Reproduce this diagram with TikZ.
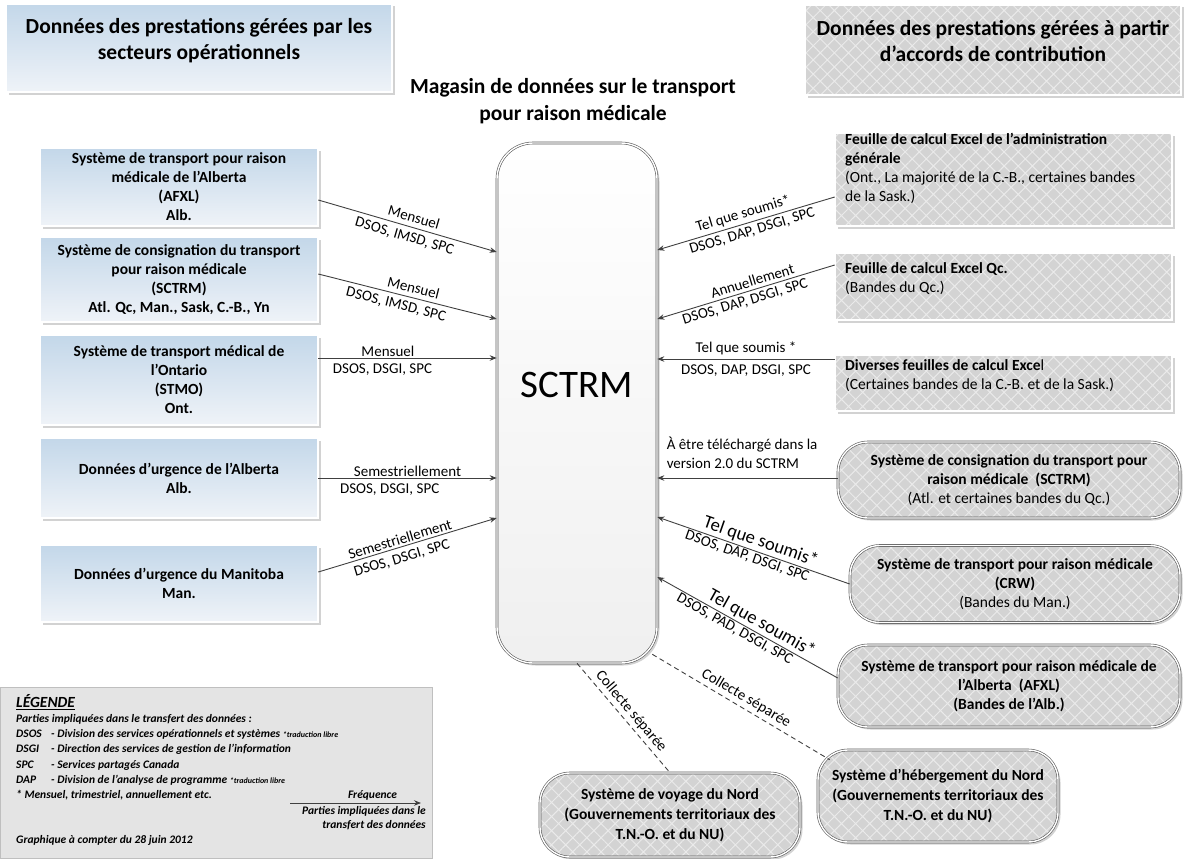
\documentclass[tikz,border=0pt]{standalone}
\usepackage{fontspec}
\setmainfont{Carlito}
\usetikzlibrary{arrows.meta,shadows,patterns.meta}
\definecolor{blueTop}{HTML}{C3D7E9}
\definecolor{blueBot}{HTML}{EFF3F8}
\definecolor{grayFill}{HTML}{D3D3D3}
\definecolor{hatchCol}{HTML}{EAEAEA}
\definecolor{lineCol}{HTML}{404040}
\definecolor{edgeCol}{HTML}{5A5A5A}
\definecolor{legFill}{HTML}{E4E4E4}
\newcommand{\fsz}[2]{\fontsize{#1}{#2}\selectfont}
\begin{document}
\begin{tikzpicture}[x=1pt,y=-1pt,
  dbl/.style={draw=edgeCol, line width=0.6pt, double=white, double distance=1.4pt},
  shad/.style={drop shadow={shadow xshift=2.5pt,shadow yshift=-2.5pt,fill=black!35}},
  bluebox/.style={rectangle, dbl, shad, top color=blueTop, bottom color=blueBot, inner sep=0pt, align=center, font=\bfseries\fsz{15.5}{19}},
  graybox/.style={rectangle, dbl, shad, preaction={fill=grayFill}, pattern={Hatch[angle=45,distance=10pt,line width=1pt]}, pattern color=hatchCol, inner sep=0pt},
  ovalbox/.style={graybox, rounded corners=30pt, align=center, font=\fsz{15.5}{19}},
  hdr/.style={font=\bfseries\fsz{21.5}{26.5}, align=center, inner sep=0pt},
  rtxt/.style={font=\fsz{15.5}{19}, align=left, inner sep=0pt, anchor=north west},
  flow/.style={draw=lineCol, line width=0.9pt, -{Stealth[length=7pt,width=5.5pt]}},
  dflow/.style={draw=lineCol, line width=0.9pt, dash pattern=on 5pt off 3.5pt},
  lab/.style={font=\fsz{15}{17}, sloped, inner sep=4.5pt},
  biglab/.style={font=\fsz{18.5}{20}, sloped, inner sep=2pt},
  legtxt/.style={font=\bfseries\itshape\fsz{11.5}{15.3}, align=left, inner sep=0pt, anchor=north west}
]
\useasboundingbox (0,0) rectangle (1199,859);

% headers
\node[bluebox, minimum width=386pt, minimum height=88pt] (hL) at (199,48) {};
\node[hdr] (hLt) at (199,40.5) {Données des prestations gérées par les\\secteurs opérationnels};
\node[graybox, minimum width=376pt, minimum height=90pt] (hR) at (993,50) {};
\node[hdr] (hRt) at (993,41) {Données des prestations gérées à partir\\d’accords de contribution};
\node[hdr, font=\bfseries\fsz{21.5}{27}] (title) at (573,101) {Magasin de données sur le transport\\pour raison médicale};

% central store
\node[rectangle, rounded corners=36pt, dbl, shad, top color=white, bottom color=black!6, minimum width=160pt, minimum height=520pt, inner sep=0pt] (S) at (577,403) {};
\node[font=\fsz{39}{44}, inner sep=0pt] (St) at (577,385) {SCTRM};

% left boxes
\node[bluebox, minimum width=278pt, minimum height=78pt] (L1) at (179,187) {Système de transport pour raison\\médicale de l’Alberta\\(AFXL)\\Alb.};
\node[bluebox, minimum width=278pt, minimum height=85pt] (L2) at (179,279.5) {Système de consignation du transport\\pour raison médicale\\(SCTRM)\\Atl. Qc, Man., Sask, C.-B., Yn};
\node[bluebox, minimum width=278pt, minimum height=90pt] (L3) at (179,380) {Système de transport médical de\\l’Ontario\\(STMO)\\Ont.};
\node[bluebox, minimum width=278pt, minimum height=80pt] (L4) at (179,478) {Données d’urgence de l’Alberta\\Alb.};
\node[bluebox, minimum width=278pt, minimum height=77pt] (L5) at (179,583.5) {Données d’urgence du Manitoba\\Man.};

% right boxes
\node[graybox, minimum width=337pt, minimum height=93pt] (R1) at (1003.5,179.5) {};
\node[rtxt] (R1t) at (845,133) {\textbf{Feuille de calcul Excel de l’administration}\\\textbf{générale}\\(Ont., La majorité de la C.-B., certaines bandes\\de la Sask.)};
\node[graybox, minimum width=337pt, minimum height=67pt] (R2) at (1003.5,286.5) {};
\node[rtxt] (R2t) at (845,262) {\textbf{Feuille de calcul Excel Qc.}\\(Bandes du Qc.)};
\node[graybox, minimum width=337pt, minimum height=56pt] (R3) at (1003.5,383) {};
\node[rtxt] (R3t) at (845,359) {\textbf{Diverses feuilles de calcul Exce}l\\(Certaines bandes de la C.-B. et de la Sask.)};

% right ovals
\node[ovalbox, minimum width=342pt, minimum height=76pt] (O1) at (1009,480) {\textbf{Système de consignation du transport pour}\\\textbf{raison médicale\ \ (SCTRM)}\\(Atl. et certaines bandes du Qc.)};
\node[ovalbox, minimum width=330pt, minimum height=77pt] (O2) at (1015,584) {\textbf{Système de transport pour raison médicale}\\\textbf{(CRW)}\\(Bandes du Man.)};
\node[ovalbox, minimum width=342pt, minimum height=82pt, font=\bfseries\fsz{15.5}{19}] (O3) at (1009,686) {Système de transport pour raison médicale de\\l’Alberta\ \ (AFXL)\\(Bandes de l’Alb.)};
\node[ovalbox, minimum width=240pt, minimum height=92pt, font=\bfseries\fsz{15.5}{20}] (O4) at (938,796) {Système d’hébergement du Nord\\(Gouvernements territoriaux des\\T.N.-O. et du NU)};
\node[ovalbox, minimum width=260pt, minimum height=84pt, font=\bfseries\fsz{15.5}{20}] (O5) at (670,815) {Système de voyage du Nord\\(Gouvernements territoriaux des\\T.N.-O. et du NU)};

% left connectors
\draw[flow] ([yshift=-13pt]L1.east) -- node[lab, above, pos=0.52]{Mensuel} node[lab, below, pos=0.5]{DSOS, IMSD, SPC} (S.west |- 0,252);
\draw[flow] ([yshift=5.5pt]L2.east) -- node[lab, above, pos=0.52]{Mensuel} node[lab, below, pos=0.45]{DSOS, IMSD, SPC} (S.west |- 0,319);
\draw[flow] ([yshift=22pt]L3.east) -- node[lab, above, pos=0.39, inner sep=1pt]{Mensuel} node[lab, below, pos=0.36, inner sep=5pt]{DSOS, DSGI, SPC} (S.west |- 0,358);
\draw[flow] (L4.east) -- node[lab, above, pos=0.5, inner sep=1pt]{Semestriellement} node[lab, below, pos=0.4, inner sep=5pt]{DSOS, DSGI, SPC} (S.west |- 0,478);
\draw[flow] ([yshift=11.5pt]L5.east) -- node[lab, above, pos=0.47, inner sep=2pt]{Semestriellement} node[lab, below, pos=0.45, inner sep=5pt]{DSOS, DSGI, SPC} (S.west |- 0,518);

% right connectors
\draw[flow] ([yshift=-17.5pt]R1.west) -- node[lab, above, pos=0.5, inner sep=3pt]{Tel que soumis*} node[lab, below, pos=0.48, inner sep=3pt]{DSOS, DAP, DSGI, SPC} (S.east |- 0,250);
\draw[flow] ([yshift=21.5pt]R2.west) -- node[lab, above, pos=0.45, inner sep=3pt]{Annuellement} node[lab, below, pos=0.52, inner sep=3pt]{DSOS, DAP, DSGI, SPC} (S.east |- 0,319);
\draw[flow] ([yshift=24pt]R3.west) -- node[lab, above, pos=0.5, inner sep=4pt]{Tel que soumis *} node[lab, below, pos=0.5, inner sep=5pt]{DSOS, DAP, DSGI, SPC} (S.east |- 0,359);
\draw[flow] ([yshift=2pt]O1.west) -- node[pos=1, anchor=south west, xshift=9pt, yshift=9pt, font=\fsz{15}{19}, align=left, inner sep=0pt]{À être téléchargé dans la\\version 2.0 du SCTRM} (S.east |- 0,478);
\draw[flow] (O2.west) -- node[biglab, above, pos=0.48]{Tel que soumis*} node[lab, below, pos=0.52, inner sep=1.5pt]{DSOS, DAP, DSGI, SPC} (S.east |- 0,517);
\draw[flow] ([yshift=8pt]O3.west) -- node[biglab, above, pos=0.45]{Tel que soumis*} node[lab, below, pos=0.55, inner sep=1.5pt]{DSOS, PAD, DSGI, SPC} (S.east |- 0,577);

% dashed connectors
\draw[dflow] ([shift={(-5pt,9pt)}]S.south east) -- node[lab, above, pos=0.5, inner sep=3pt]{Collecte séparée} ([shift={(12pt,-10pt)}]O4.north west);
\draw[dflow] (S.south) -- node[lab, above, pos=0.5, inner sep=3pt]{Collecte séparée} (O5.north);

% legend
\node[fill=legFill, draw=black!25, line width=0.5pt, minimum width=432pt, minimum height=171pt, anchor=north west, inner sep=0pt] (leg) at (0,687) {};
\node[legtxt, font=\bfseries\itshape\fsz{15.5}{17}] (legT) at (16,694) {\underline{LÉGENDE}};
\node[legtxt] (legB) at (16,714) {Parties impliquées dans le transfert des données :\\
\makebox[35pt][l]{DSOS}- Division des services opérationnels et systèmes {\fsz{8}{9}*traduction libre}\\
\makebox[35pt][l]{DSGI}- Direction des services de gestion de l’information\\
\makebox[35pt][l]{SPC}- Services partagés Canada\\
\makebox[35pt][l]{DAP}- Division de l’analyse de programme {\fsz{8}{9}*traduction libre}\\
* Mensuel, trimestriel, annuellement etc.};
\coordinate (fA) at (290,803);
\coordinate (fB) at (421,803);
\draw[flow] (fA) -- node[above, pos=0.63, inner sep=2pt, font=\bfseries\itshape\fsz{11.5}{15}]{Fréquence} (fB);
\node[font=\bfseries\itshape\fsz{11.5}{14}, align=right, anchor=north east, inner sep=0pt] (fT) at (426,806) {Parties impliquées dans le\\transfert des données};
\node[legtxt] (gr) at (16,835) {Graphique à compter du 28 juin 2012};
\end{tikzpicture}
\end{document}
